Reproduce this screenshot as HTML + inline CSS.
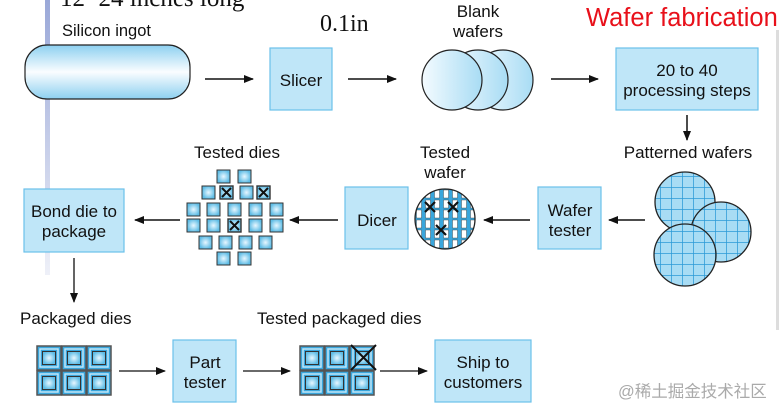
<!DOCTYPE html>
<html><head><meta charset="utf-8"><style>
html,body{margin:0;padding:0;background:#fff;width:779px;height:414px;overflow:hidden}
svg{display:block}
text{font-family:"Liberation Sans",Arial,sans-serif;fill:#111}
</style></head><body>
<svg width="779" height="414" viewBox="0 0 779 414" xmlns="http://www.w3.org/2000/svg">
<defs>
<linearGradient id="bar" x1="0" y1="0" x2="0" y2="1"><stop offset="0" stop-color="#9aa8d8"/><stop offset="1" stop-color="#eef0f8"/></linearGradient>
<linearGradient id="ing" x1="0" y1="0" x2="0" y2="1"><stop offset="0" stop-color="#8dd0f0"/><stop offset="0.5" stop-color="#fafdff"/><stop offset="1" stop-color="#8dd0f0"/></linearGradient>
<linearGradient id="wf" x1="0" y1="0" x2="1" y2="0"><stop offset="0" stop-color="#f4fbff"/><stop offset="1" stop-color="#a8dcf4"/></linearGradient>
<radialGradient id="sq"><stop offset="0" stop-color="#e8f7ff"/><stop offset="1" stop-color="#5fbde6"/></radialGradient>
<pattern id="grid" width="11" height="11" patternUnits="userSpaceOnUse"><rect width="11" height="11" fill="#a8dcf4"/><path d="M0 0H11M0 0V11" stroke="#2a9ad6" stroke-width="1.5"/></pattern>
<pattern id="tw" x="415" y="189" width="9" height="10" patternUnits="userSpaceOnUse"><rect width="9" height="10" fill="#3aa6dc"/><rect x="1.5" y="1" width="5" height="8" fill="#fff" stroke="#333" stroke-width="0.4"/></pattern>
<marker id="ah" markerWidth="10" markerHeight="8" refX="9" refY="4" orient="auto" markerUnits="userSpaceOnUse"><path d="M0 0L10 4L0 8z" fill="#111"/></marker>
<g id="d"><rect x="0" y="0" width="13" height="13" fill="url(#sq)" stroke="#333" stroke-width="1"/></g>
<g id="dx"><rect x="0" y="0" width="13" height="13" fill="url(#sq)" stroke="#333" stroke-width="1.4"/><path d="M2 2L11 11M11 2L2 11" stroke="#111" stroke-width="2"/></g>
<g id="p"><rect x="0" y="0" width="24" height="24" fill="#3aa6dc" stroke="#555" stroke-width="1.5"/><rect x="3" y="3" width="18" height="18" fill="none" stroke="#bfe6f8" stroke-width="1.5"/><rect x="5.5" y="5.5" width="13" height="13" fill="url(#sq)" stroke="#333" stroke-width="1"/></g>
</defs>
<rect x="45" y="0" width="5" height="275" fill="url(#bar)"/>
<rect x="776" y="30" width="3" height="300" fill="#ddd"/>
<text x="60" y="6" font-size="25" style="font-family:'Liberation Serif',serif">12~24 inches long</text>
<text x="320" y="31" font-size="24" style="font-family:'Liberation Serif',serif">0.1in</text>
<text x="586" y="26" font-size="25.5" style="fill:#e8101a">Wafer fabrication</text>

<text x="62" y="36" font-size="16.5">Silicon ingot</text>
<rect x="25" y="45" width="165" height="54" rx="22" fill="url(#ing)" stroke="#222" stroke-width="1.2"/>
<line x1="205" y1="79" x2="253" y2="79" stroke="#111" stroke-width="1.5" marker-end="url(#ah)"/>
<rect x="270" y="48" width="62" height="62" fill="#bfe6f8" stroke="#6cc0ea" stroke-width="1.2"/>
<text x="301" y="86" font-size="17" text-anchor="middle">Slicer</text>
<line x1="348" y1="79" x2="396" y2="79" stroke="#111" stroke-width="1.5" marker-end="url(#ah)"/>
<text x="478" y="17" font-size="17" text-anchor="middle">Blank</text>
<text x="478" y="37" font-size="17" text-anchor="middle">wafers</text>
<circle cx="503" cy="80" r="30" fill="url(#wf)" stroke="#222" stroke-width="1.2"/>
<circle cx="478" cy="80" r="30" fill="url(#wf)" stroke="#222" stroke-width="1.2"/>
<circle cx="452" cy="80" r="30" fill="url(#wf)" stroke="#222" stroke-width="1.2"/>
<line x1="551" y1="79" x2="598" y2="79" stroke="#111" stroke-width="1.5" marker-end="url(#ah)"/>
<rect x="616" y="48" width="142" height="62" fill="#bfe6f8" stroke="#6cc0ea" stroke-width="1.2"/>
<text x="687" y="76" font-size="17" text-anchor="middle">20 to 40</text>
<text x="687" y="96" font-size="17" text-anchor="middle">processing steps</text>
<line x1="687" y1="115" x2="687" y2="140" stroke="#111" stroke-width="1.5" marker-end="url(#ah)"/>
<text x="688" y="158" font-size="17" text-anchor="middle">Patterned wafers</text>
<circle cx="685" cy="202" r="30" fill="url(#grid)" stroke="#222" stroke-width="1.3"/>
<circle cx="721" cy="232" r="30" fill="url(#grid)" stroke="#222" stroke-width="1.3"/>
<circle cx="685" cy="255" r="31" fill="url(#grid)" stroke="#222" stroke-width="1.3"/>
<line x1="645" y1="220" x2="609" y2="220" stroke="#111" stroke-width="1.5" marker-end="url(#ah)"/>
<rect x="538" y="187" width="63" height="62" fill="#bfe6f8" stroke="#6cc0ea" stroke-width="1.2"/>
<text x="570" y="216" font-size="17" text-anchor="middle">Wafer</text>
<text x="570" y="236" font-size="17" text-anchor="middle">tester</text>
<line x1="530" y1="220" x2="484" y2="220" stroke="#111" stroke-width="1.5" marker-end="url(#ah)"/>
<text x="445" y="158" font-size="17" text-anchor="middle">Tested</text>
<text x="445" y="178" font-size="17" text-anchor="middle">wafer</text>
<circle cx="445" cy="219" r="30" fill="url(#tw)" stroke="#222" stroke-width="1.3"/>
<g stroke="#111" stroke-width="2.2"><path d="M425 202l10 10M435 202l-10 10M448 202l10 10M458 202l-10 10M436 225l10 10M446 225l-10 10"/></g>
<rect x="345" y="187" width="63" height="62" fill="#bfe6f8" stroke="#6cc0ea" stroke-width="1.2"/>
<text x="377" y="226" font-size="17" text-anchor="middle">Dicer</text>
<line x1="338" y1="220" x2="290" y2="220" stroke="#111" stroke-width="1.5" marker-end="url(#ah)"/>
<text x="237" y="158" font-size="17" text-anchor="middle">Tested dies</text>
<use href="#d" x="217" y="170"/><use href="#d" x="238" y="170"/>
<use href="#d" x="202" y="186"/><use href="#dx" x="220" y="186"/><use href="#d" x="240" y="186"/><use href="#dx" x="257" y="186"/>
<use href="#d" x="187" y="203"/><use href="#d" x="207" y="203"/><use href="#d" x="228" y="203"/><use href="#d" x="249" y="203"/><use href="#d" x="270" y="203"/>
<use href="#d" x="187" y="219"/><use href="#d" x="207" y="219"/><use href="#dx" x="228" y="219"/><use href="#d" x="249" y="219"/><use href="#d" x="270" y="219"/>
<use href="#d" x="199" y="236"/><use href="#d" x="219" y="236"/><use href="#d" x="239" y="236"/><use href="#d" x="259" y="236"/>
<use href="#d" x="217" y="252"/><use href="#d" x="238" y="252"/>
<line x1="180" y1="220" x2="135" y2="220" stroke="#111" stroke-width="1.5" marker-end="url(#ah)"/>
<rect x="24" y="189" width="100" height="63" fill="#bfe6f8" stroke="#6cc0ea" stroke-width="1.2"/>
<text x="74" y="217" font-size="17" text-anchor="middle">Bond die to</text>
<text x="74" y="237" font-size="17" text-anchor="middle">package</text>
<line x1="74" y1="258" x2="74" y2="302" stroke="#111" stroke-width="1.3" marker-end="url(#ah)"/>
<text x="20" y="324" font-size="17">Packaged dies</text>
<text x="257" y="324" font-size="17">Tested packaged dies</text>
<use href="#p" x="37" y="346"/><use href="#p" x="62" y="346"/><use href="#p" x="87" y="346"/>
<use href="#p" x="37" y="371"/><use href="#p" x="62" y="371"/><use href="#p" x="87" y="371"/>
<line x1="119" y1="371" x2="165" y2="371" stroke="#111" stroke-width="1.3" marker-end="url(#ah)"/>
<rect x="173" y="340" width="63" height="62" fill="#bfe6f8" stroke="#6cc0ea" stroke-width="1.2"/>
<text x="205" y="368" font-size="17" text-anchor="middle">Part</text>
<text x="205" y="388" font-size="17" text-anchor="middle">tester</text>
<line x1="243" y1="371" x2="290" y2="371" stroke="#111" stroke-width="1.3" marker-end="url(#ah)"/>
<use href="#p" x="300" y="346"/><use href="#p" x="325" y="346"/><use href="#p" x="350" y="346"/>
<use href="#p" x="300" y="371"/><use href="#p" x="325" y="371"/><use href="#p" x="350" y="371"/>
<path d="M351 345L376 370M376 345L351 370" stroke="#111" stroke-width="2"/>
<line x1="380" y1="371" x2="427" y2="371" stroke="#111" stroke-width="1.3" marker-end="url(#ah)"/>
<rect x="435" y="340" width="96" height="62" fill="#bfe6f8" stroke="#6cc0ea" stroke-width="1.2"/>
<text x="483" y="368" font-size="17" text-anchor="middle">Ship to</text>
<text x="483" y="388" font-size="17" text-anchor="middle">customers</text>
<text x="618" y="397" font-size="16.5" style="fill:#aaa;font-family:'Liberation Sans','Noto Sans CJK SC',sans-serif">@稀土掘金技术社区</text>
</svg>
</body></html>
